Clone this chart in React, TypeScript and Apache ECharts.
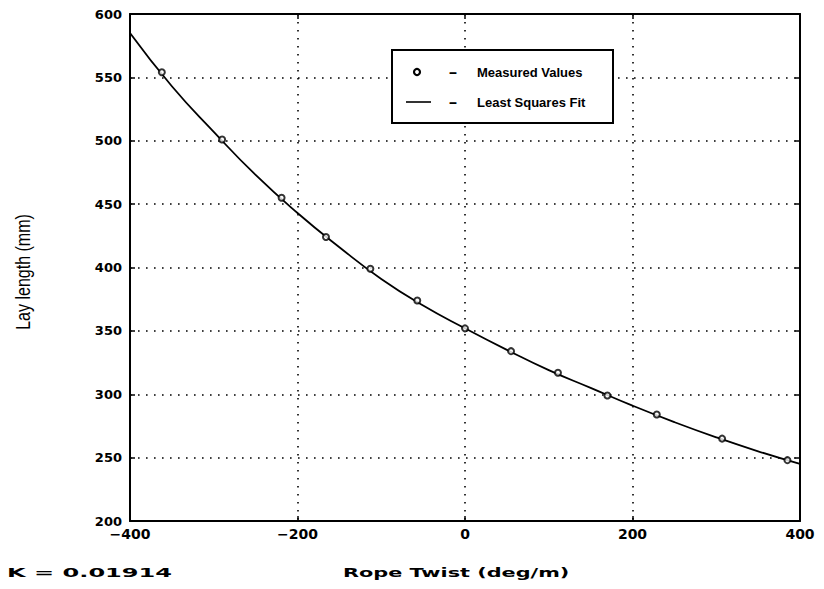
import React, { useEffect, useRef } from "react";
import * as echarts from "echarts";

// Measured values
const twist = [-362, -290, -219, -166, -113, -57, 0, 55, 111, 170, 229, 307, 385];
const layLength = [554, 501, 455, 424, 399, 374, 352, 334, 317, 299, 284, 265, 248];

// Least squares fit
const fitTwist = [-400, -350, -300, -250, -200, -150, -100, -50, 0, 50, 100, 150, 200, 250, 300, 350, 400];
const fitLength = [585, 543, 507, 473, 443, 416, 391, 370, 352, 335, 319, 305, 291, 278, 266, 255, 245];

// Axis ranges
const xRange = { min: -400, max: 400, interval: 200 };
const yRange = { min: 200, max: 600, interval: 50 };

const legendLabels = ["Measured Values", "Least Squares Fit"];
const kText = "K = 0.01914";
const xTitle = "Rope Twist (deg/m)";
const yTitle = "Lay length (mm)";

export default function App() {
  const ref = useRef<HTMLDivElement>(null);
  useEffect(() => {
    if (!ref.current) return;
    const chart = echarts.init(ref.current, undefined, { renderer: "svg" });
    const gridLine = { show: true, lineStyle: { color: "#000", type: [1.6, 6.4], width: 1.6 } };
    const tickFont = { color: "#000", fontFamily: "DejaVu Sans", fontWeight: "bold" as const };
    const minus = (v: number) => String(v).replace("-", "\u2212");
    const frameAxis = {
      axisLine: { show: true, onZero: false, lineStyle: { color: "#000", width: 2 } },
      axisTick: { show: true, inside: true, length: 5, lineStyle: { color: "#000", width: 1.5 } },
    };
    chart.setOption({
      animation: false,
      backgroundColor: "#fff",
      grid: { left: 130, right: 24, top: 14, bottom: 68, show: false },
      xAxis: [
        {
          type: "value",
          ...xRange,
          ...frameAxis,
          axisLabel: { ...tickFont, fontSize: 14, margin: 6, formatter: minus },
          splitLine: gridLine,
        },
        {
          type: "value",
          position: "top",
          ...xRange,
          ...frameAxis,
          axisLabel: { show: false },
          splitLine: { show: false },
        },
      ],
      yAxis: [
        {
          type: "value",
          ...yRange,
          ...frameAxis,
          axisLabel: { ...tickFont, fontSize: 13, margin: 8 },
          splitLine: gridLine,
        },
        {
          type: "value",
          position: "right",
          ...yRange,
          ...frameAxis,
          axisLabel: { show: false },
          splitLine: { show: false },
        },
      ],
      series: [
        {
          type: "line",
          name: legendLabels[1],
          data: fitTwist.map((x, i) => [x, fitLength[i]]),
          smooth: 0.5,
          showSymbol: false,
          lineStyle: { color: "#000", width: 1.8 },
          z: 3,
        },
        {
          type: "scatter",
          name: legendLabels[0],
          data: twist.map((x, i) => [x, layLength[i]]),
          symbol: "emptyCircle",
          symbolSize: 6,
          itemStyle: { color: "#000", borderColor: "#000", borderWidth: 2.2 },
          z: 4,
        },
      ],
      graphic: [
        {
          type: "rect",
          z: 100,
          shape: { x: 392, y: 50, width: 221, height: 73 },
          style: { fill: "#fff", stroke: "#000", lineWidth: 2 },
        },
        {
          type: "circle",
          z: 101,
          shape: { cx: 417, cy: 72, r: 3 },
          style: { fill: "#fff", stroke: "#000", lineWidth: 2.2 },
        },
        {
          type: "line",
          z: 101,
          shape: { x1: 406, y1: 102, x2: 431, y2: 102 },
          style: { stroke: "#000", lineWidth: 1.6 },
        },
        ...[72, 102].map((y) => ({
          type: "text",
          z: 101,
          x: 453,
          y,
          scaleX: 1.8,
          style: { text: "-", font: "bold 15px Liberation Sans", fill: "#000", textAlign: "center", textVerticalAlign: "middle" },
        })),
        ...legendLabels.map((t, i) => ({
          type: "text",
          z: 101,
          x: 477,
          y: 72 + i * 30,
          scaleX: 1.0,
          style: { text: t, font: "bold 13px Liberation Sans", fill: "#000", textAlign: "left", textVerticalAlign: "middle" },
        })),
        {
          type: "text",
          x: 343,
          y: 573,
          scaleX: 1.6,
          style: { text: xTitle, font: "bold 13px DejaVu Sans", fill: "#000", textAlign: "left", textVerticalAlign: "middle" },
        },
        {
          type: "text",
          x: 7,
          y: 573,
          scaleX: 1.85,
          style: { text: kText, font: "bold 13px DejaVu Sans", fill: "#000", textAlign: "left", textVerticalAlign: "middle" },
        },
        {
          type: "text",
          x: 23,
          y: 272,
          rotation: Math.PI / 2,
          scaleX: 0.8,
          style: { text: yTitle, font: "20px Liberation Sans", fill: "#000", textAlign: "center", textVerticalAlign: "middle" },
        },
      ],
    });
    return () => chart.dispose();
  }, []);
  return <div ref={ref} style={{ position: "absolute", left: 0, top: 0, width: 824, height: 589 }} />;
}
